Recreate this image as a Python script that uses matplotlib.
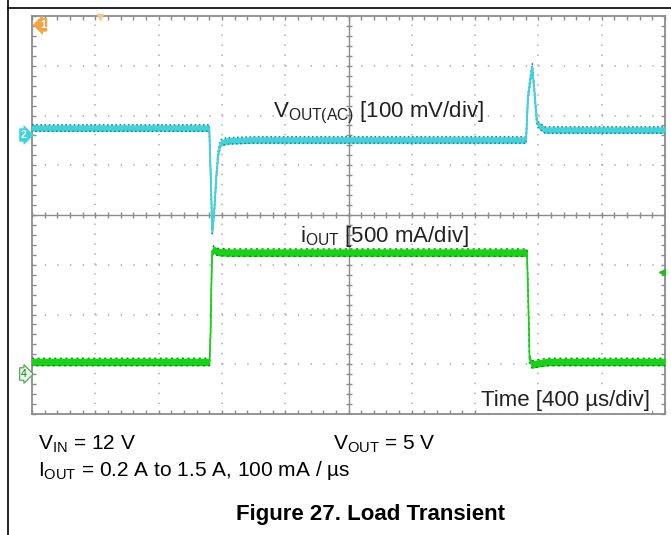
import numpy as np
import matplotlib
matplotlib.use('Agg')
import matplotlib.pyplot as plt
from matplotlib.lines import Line2D

plt.rcParams['font.family'] = ['Liberation Sans', 'DejaVu Sans']
plt.rcParams['mathtext.fontset'] = 'custom'
plt.rcParams['mathtext.rm'] = 'Liberation Sans'
plt.rcParams['mathtext.it'] = 'Liberation Sans:italic'
plt.rcParams['mathtext.bf'] = 'Liberation Sans:bold'
plt.rcParams['lines.scale_dashes'] = False

# ---------------- data (read from the scope capture) ----------------
# Channel 2: VOUT (AC coupled), 100 mV/div
vout_time_us = [0, 1120, 1130, 1139, 1152, 1163, 1177, 1192, 1230, 1400,
                3122, 3134, 3151, 3161, 3174, 3189, 3199, 3242, 4000]
vout_ac_mV = [14, 14, -90, -195, -151, -91, -36, -16, -12, -10,
              -10, 76, 117, 137, 90, 30, 20, 10, 10]

# Channel 4: IOUT, 500 mA/div
iout_time_us = [0, 1122, 1128, 1133, 1138, 1148, 1175, 1250,
                3128, 3138, 3144, 3160, 3190, 3260, 4000]
iout_mA = [121, 121, 400, 850, 1226, 1250, 1225, 1220,
           1220, 600, 150, 95, 105, 121, 121]

# scope settings
time_per_div_us = 400
vout_mV_per_div = 100
iout_mA_per_div = 500
vout_offset_div = 1.608
iout_offset_div = -3.196

# ---------------- figure ----------------
W, H = 671, 535
fig = plt.figure(figsize=(W / 100, H / 100), dpi=100)
fig.patch.set_facecolor('white')

# document frame
fig.add_artist(Line2D([8 / W, 1], [1 - 8 / H, 1 - 8 / H], transform=fig.transFigure,
                      color='black', lw=1.2))
fig.add_artist(Line2D([8 / W, 8 / W], [0, 1], transform=fig.transFigure,
                      color='black', lw=1.2))

ax = fig.add_axes([32 / W, (H - 414) / H, 633 / W, 398 / H])
ax.set_xlim(0, 10)
ax.set_ylim(-4, 4)
ax.set_facecolor('white')

frame_col = '#8c8c8c'
grid_col = '#a8a8a8'
for s in ax.spines.values():
    s.set_color(frame_col)
    s.set_linewidth(1.3)

ax.set_xticks(np.arange(0, 11, 1))
ax.set_yticks(np.arange(-4, 5, 1))
ax.set_xticks(np.arange(0, 10.01, 0.2), minor=True)
ax.set_yticks(np.arange(-4, 4.01, 0.2), minor=True)
ax.tick_params(which='both', direction='in', length=3, width=1, color=frame_col,
               top=True, right=True, labelleft=False, labelbottom=False)

# dotted grid
xdot = 0.2 * 63.3 * 0.72   # points
ydot = 0.2 * 49.75 * 0.72
for gx in range(1, 10):
    if gx == 5:
        continue
    ax.axvline(gx, color=grid_col, lw=1.1, ls=(0, (1.0, ydot - 1.0)), zorder=1)
for gy in range(-3, 4):
    if gy == 0:
        continue
    ax.axhline(gy, color=grid_col, lw=1.1, ls=(0, (1.0, xdot - 1.0)), zorder=1)

# center crosshair with ticks
ax.axvline(5, color=frame_col, lw=1.0, zorder=1)
ax.axhline(0, color=frame_col, lw=1.0, zorder=1)
mx = np.arange(0, 10.01, 0.2)
my = np.arange(-4, 4.01, 0.2)
ax.plot(mx, np.zeros_like(mx), ls='none', marker='|', ms=5, mew=1.0, color=frame_col, zorder=1)
ax.plot(np.full_like(my, 5), my, ls='none', marker='_', ms=5, mew=1.0, color=frame_col, zorder=1)

# ---------------- traces ----------------
tv = np.array(vout_time_us) / time_per_div_us
yv = vout_offset_div + np.array(vout_ac_mV) / vout_mV_per_div
ti = np.array(iout_time_us) / time_per_div_us
yi = iout_offset_div + np.array(iout_mA) / iout_mA_per_div

cyan = '#3fd3dc'
cyan_dark = '#1f7f88'
green = '#14d414'
green_dark = '#0b7d0b'

hv = 0.065
ax.fill_between(tv, yv - hv, yv + hv, color=cyan, lw=0, zorder=3)
ax.plot(tv, yv + hv, color=cyan_dark, lw=1.0, ls=(0, (1.2, 1.8)), zorder=4)
ax.plot(tv, yv - hv, color=cyan_dark, lw=1.0, ls=(0.8, (1.2, 1.8)), zorder=4)
ax.plot(tv, yv, color=cyan, lw=1.4, zorder=4)

hi = 0.075
ax.fill_between(ti, yi - hi, yi + hi, color=green, lw=0, zorder=3)
ax.plot(ti, yi + hi, color=green_dark, lw=0.9, ls=(0, (1.5, 2.5)), zorder=4)
ax.plot(ti, yi - hi, color=green_dark, lw=0.9, ls=(1.0, (1.5, 2.5)), zorder=4)
ax.plot(ti, yi, color=green, lw=1.2, zorder=4)

# ---------------- scope annotations ----------------
ax.text(3.81, 1.97, r'$\mathregular{V_{OUT(AC)}}$ [100 mV/div]', fontsize=16,
        va='baseline', ha='left', color='#222222', zorder=5)
ax.text(4.23, -0.54, r'$\mathregular{i_{OUT}}$ [500 mA/div]', fontsize=16,
        va='baseline', ha='left', color='#222222', zorder=5)
ax.text(7.09, -3.84, 'Time [400 µs/div]', fontsize=16, va='baseline', ha='left',
        color='#222222', zorder=5,
        bbox=dict(boxstyle='square,pad=0.1', fc='white', ec='none'))

# channel markers
ax.text(-0.13, vout_offset_div, '2', fontsize=7.5, color='white', ha='center', va='center',
        fontweight='bold', clip_on=False, zorder=6,
        bbox=dict(boxstyle='rarrow,pad=0.12', fc=cyan, ec=cyan, lw=0.5))
ax.text(-0.13, iout_offset_div, '4', fontsize=7.5, color=green_dark, ha='center', va='center',
        clip_on=False, zorder=6,
        bbox=dict(boxstyle='rarrow,pad=0.12', fc='#eefaee', ec='#55aa55', lw=0.9))
ax.text(0.17, 3.82, '1', fontsize=7.5, color='white', ha='center', va='center',
        fontweight='bold', clip_on=False, zorder=6,
        bbox=dict(boxstyle='larrow,pad=0.12', fc='#f5a340', ec='#f5a340', lw=0.5))
ax.plot([1.07], [3.97], marker='v', ms=4, color='#f8c890', clip_on=False, zorder=6)
ax.plot([9.95], [-1.146], marker='<', ms=5, color='#22bb22', clip_on=False, zorder=6)

# ---------------- document text below ----------------
def ftext(x, y, s, **kw):
    fig.text(x / W, 1 - y / H, s, va='baseline', ha='left', color='black', **kw)

ftext(38, 450, r'$\mathregular{V_{IN}}$ = 12 V', fontsize=15)
ftext(333, 450, r'$\mathregular{V_{OUT}}$ = 5 V', fontsize=15)
ftext(38, 476, r'$\mathregular{I_{OUT}}$ = 0.2 A to 1.5 A, 100 mA / µs', fontsize=15)
fig.text(371 / W, 1 - 520 / H, 'Figure 27. Load Transient', fontsize=16, fontweight='bold',
         ha='center', va='baseline', color='black')

fig.savefig('out.png', dpi=100, facecolor='white')
